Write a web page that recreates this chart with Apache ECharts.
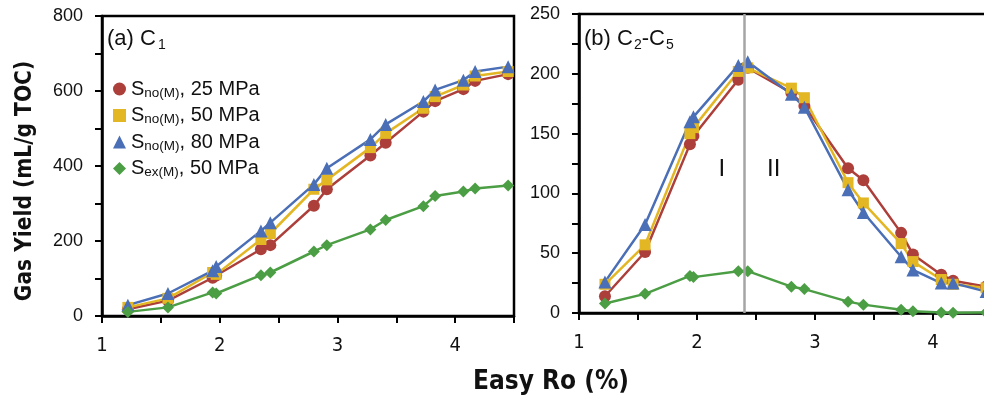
<!DOCTYPE html>
<html>
<head>
<meta charset="utf-8">
<script src="https://cdn.jsdelivr.net/npm/echarts@6/dist/echarts.min.js"></script>
<style>
  html, body { margin: 0; padding: 0; background: #fff; }
  #chart { width: 984px; height: 397px; }
</style>
</head>
<body>
<div id="chart"></div>
<script>
// Easy Ro (%) at each sampling point
const easyRo = [1.22, 1.56, 1.94, 1.97, 2.35, 2.43, 2.80, 2.91, 3.28, 3.41, 3.73, 3.83, 4.07, 4.17, 4.45];

// (a) C1 yield, mL/g TOC
const c1No25 = [18, 41, 102, 108, 178, 189, 294, 338, 428, 462, 545, 573, 605, 627, 645];
const c1No50 = [23, 47, 116, 111, 204, 220, 338, 363, 449, 487, 554, 585, 616, 640, 652];
const c1No80 = [29, 60, 121, 132, 227, 249, 351, 394, 471, 511, 572, 603, 629, 652, 665];
const c1Ex50 = [11, 23, 63, 60, 109, 116, 172, 189, 231, 256, 293, 320, 332, 340, 348];

// (b) C2-C5 yield, mL/g TOC
const c25No25 = [14, 51, 141, 148, 195, 205, 184, 173, 121, 111, 67, 49, 32, 27, 22];
const c25No50 = [24, 57, 150, 155, 202, 205, 188, 180, 109, 92, 58, 43, 28, 24, 21];
const c25No80 = [26, 74, 160, 164, 207, 210, 183, 172, 103, 84, 47, 36, 25, 25, 18];
const c25Ex50 = [8, 16, 31, 30, 35, 35, 22, 20, 9.5, 7, 2.8, 1.4, 0.4, 0.3, 0.4];

// Stage boundary and stage labels in panel (b)
const stageBoundary = 2.4;
const stageLabels = [{ text: 'I', x: 2.21, y: 120 }, { text: 'II', x: 2.65, y: 120 }];

const seriesKeys = ['no25', 'no50', 'no80', 'ex50'];
const legendText = {
  no25: '{s|S}{sub|no(M)}{s|, 25 MPa}',
  no50: '{s|S}{sub|no(M)}{s|, 50 MPa}',
  no80: '{s|S}{sub|no(M)}{s|, 80 MPa}',
  ex50: '{s|S}{sub|ex(M)}{s|, 50 MPa}'
};
const colors = { no25: '#AD3F3B', no50: '#E3B624', no80: '#4A6FB6', ex50: '#4C9E45' };
const symbols = { no25: 'circle', no50: 'rect', no80: 'triangle', ex50: 'diamond' };
const symbolSizes = { no25: 12, no50: 11, no80: 13, ex50: 12 };

const panelData = [
  { no25: c1No25, no50: c1No50, no80: c1No80, ex50: c1Ex50 },
  { no25: c25No25, no50: c25No50, no80: c25No80, ex50: c25Ex50 }
];

const narrow = '"Liberation Sans Narrow", "Arial Narrow", "DejaVu Sans Condensed", sans-serif';
const sans = '"Liberation Sans", Arial, Helvetica, sans-serif';

function pairs(ys) { return easyRo.map((x, i) => [x, ys[i]]); }

function xAxisFor(gi) {
  return {
    gridIndex: gi, type: 'value', min: 1, max: 4.5, interval: 0.5,
    axisLine: { show: true, onZero: false, lineStyle: { color: '#000', width: 2.5 } },
    axisTick: { show: true, inside: false, length: 7, lineStyle: { color: '#000', width: 2 } },
    axisLabel: {
      margin: 20, color: '#111', fontSize: 20, fontFamily: narrow,
      formatter: v => (Math.abs(v - Math.round(v)) < 1e-6 ? String(Math.round(v)) : '')
    },
    splitLine: { show: false }
  };
}

function yAxisFor(gi, max, interval, labelStep) {
  return {
    gridIndex: gi, type: 'value', min: 0, max: max, interval: interval,
    axisLine: { show: true, onZero: false, lineStyle: { color: '#000', width: 2.5 } },
    axisTick: { show: true, inside: false, length: 7, lineStyle: { color: '#000', width: 2 } },
    axisLabel: {
      margin: 19, color: '#111', fontSize: 18, fontFamily: sans,
      formatter: v => (v % labelStep === 0 ? String(v) : '')
    },
    splitLine: { show: false }
  };
}

const series = [];
panelData.forEach((panel, gi) => {
  seriesKeys.forEach(k => {
    series.push({
      name: k, type: 'line', xAxisIndex: gi, yAxisIndex: gi,
      data: pairs(panel[k]),
      symbol: symbols[k], symbolSize: symbolSizes[k],
      lineStyle: { color: colors[k], width: 2.5 },
      itemStyle: { color: colors[k] },
      z: 3
    });
  });
});

// Grey boundary line between stage I and stage II
series.push({
  name: 'boundary', type: 'line', xAxisIndex: 1, yAxisIndex: 1, data: [],
  markLine: {
    silent: true, symbol: ['none', 'none'], label: { show: false },
    lineStyle: { color: '#A5A5A5', width: 2.5, type: 'solid' },
    data: [{ xAxis: stageBoundary }]
  },
  z: 2
});

const gridBase = { show: true, borderColor: '#000', borderWidth: 2.5, backgroundColor: 'transparent', outerBoundsMode: 'none', containLabel: false };

const chart = echarts.init(document.getElementById('chart'));
chart.setOption({
  animation: false,
  backgroundColor: '#fff',
  grid: [
    Object.assign({ left: 102, top: 16, width: 412, height: 300 }, gridBase),
    Object.assign({ left: 579, top: 14, width: 413, height: 299 }, gridBase)
  ],
  xAxis: [xAxisFor(0), xAxisFor(1)],
  yAxis: [yAxisFor(0, 800, 100, 200), yAxisFor(1, 250, 25, 50)],
  legend: {
    orient: 'vertical', left: 108, top: 71, itemGap: 2.5,
    itemWidth: 13, itemHeight: 13,
    data: seriesKeys.map(k => ({ name: k, icon: symbols[k] })),
    formatter: name => legendText[name],
    textStyle: {
      color: '#111', fontFamily: sans,
      rich: {
        s: { fontSize: 20, fontFamily: sans, color: '#111', lineHeight: 22 },
        sub: { fontSize: 13.5, fontFamily: sans, color: '#111', verticalAlign: 'bottom', lineHeight: 14, padding: [10, 0, 0, 0] }
      }
    }
  },
  graphic: [
    {
      type: 'text', left: 107, top: 28,
      style: {
        text: '{t|(a) C}{sub|1}', fill: '#111',
        rich: {
          t: { fontSize: 22, fontFamily: sans, fill: '#111', lineHeight: 26 },
          sub: { fontSize: 14, fontFamily: sans, fill: '#111', verticalAlign: 'bottom', padding: [12, 0, 0, 2] }
        }
      }
    },
    {
      type: 'text', left: 584, top: 28,
      style: {
        text: '{t|(b) C}{sub|2}{t|-C}{sub|5}', fill: '#111',
        rich: {
          t: { fontSize: 22, fontFamily: sans, fill: '#111', lineHeight: 26 },
          sub: { fontSize: 14, fontFamily: sans, fill: '#111', verticalAlign: 'bottom', padding: [12, 0, 0, 1] }
        }
      }
    },
    {
      type: 'text', x: 551, y: 382,
      style: { text: 'Easy Ro (%)', fontSize: 26, fontWeight: 'bold', fontFamily: narrow, fill: '#111', align: 'center', verticalAlign: 'middle' }
    },
    {
      type: 'text', x: 25, y: 181, rotation: Math.PI / 2,
      style: { text: 'Gas Yield (mL/g TOC)', fontSize: 22.5, fontWeight: 'bold', fontFamily: narrow, fill: '#111', align: 'center', verticalAlign: 'middle' }
    }
  ],
  series: series
});

// Stage labels placed through the panel (b) scales
const stageGraphics = stageLabels.map(s => {
  const p = chart.convertToPixel({ xAxisIndex: 1, yAxisIndex: 1 }, [s.x, s.y]);
  return {
    type: 'text', x: p[0], y: p[1],
    style: { text: s.text, fontSize: 24, fontFamily: sans, fill: '#111', align: 'center', verticalAlign: 'middle' }
  };
});
const opt = chart.getOption();
chart.setOption({ graphic: opt.graphic[0].elements.concat(stageGraphics) }, { replaceMerge: [] });
</script>
</body>
</html>
